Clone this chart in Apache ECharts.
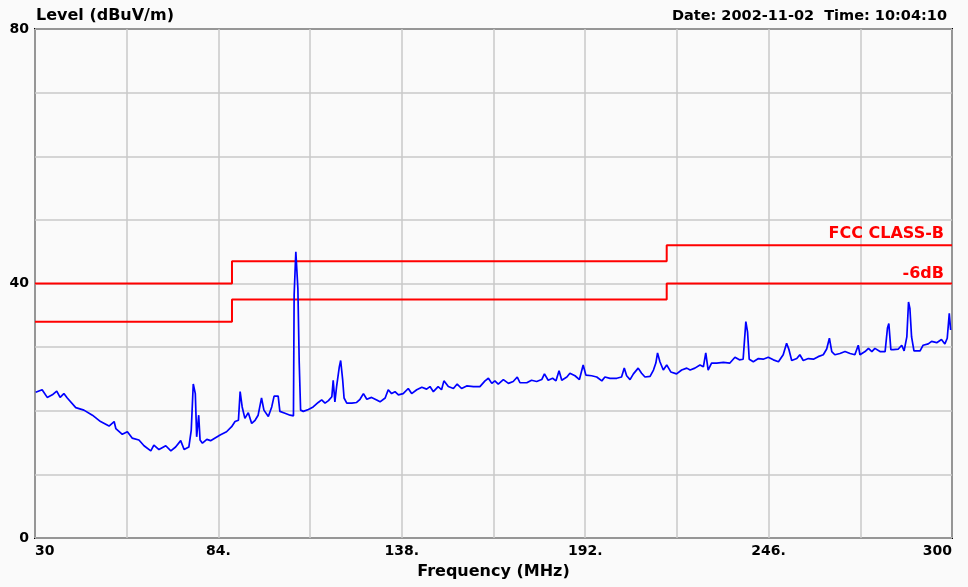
<!DOCTYPE html>
<html>
<head>
<meta charset="utf-8">
<script src="https://cdn.jsdelivr.net/npm/echarts@6/dist/echarts.min.js"></script>
<style>
html,body{margin:0;padding:0;background:#fafafa;}
#chart{width:968px;height:587px;}
</style>
</head>
<body>
<div id="chart"></div>
<script>
// Frequency axis tick labels (MHz)
var xTickValues = [30, 84, 138, 192, 246, 300];
var xTickLabels = ['30', '84.', '138.', '192.', '246.', '300'];
// Level axis tick labels (dBuV/m)
var yTickValues = [0, 40, 80];
var yTickLabels = ['0', '40', '80'];

// Limit lines
var limitFreq = [30, 88, 88, 216, 216, 300];
var fccLevel = [40, 40, 43.5, 43.5, 46, 46];
var minus6Level = [34, 34, 37.5, 37.5, 40, 40];

// Measured trace
var traceFreq = [30.2,32.1,33.6,35.1,36.4,37.4,38.5,39.5,42.0,44.4,46.9,49.3,51.8,53.3,53.8,55.7,57.2,58.6,60.6,62.1,64.1,65.0,66.5,68.5,70.0,71.4,72.9,73.9,75.3,76.0,76.6,77.2,77.6,78.2,78.6,79.3,80.6,81.7,84.5,86.4,87.9,88.9,89.9,90.4,91.0,91.8,92.8,93.8,94.8,95.7,96.7,97.4,98.7,99.7,100.4,101.6,102.1,103.6,105.1,106.1,106.3,106.8,107.1,107.4,107.8,108.2,109.0,110.5,111.9,113.4,114.4,115.4,116.4,117.4,117.8,118.3,118.8,119.6,120.0,120.6,121.0,121.8,123.3,124.7,125.7,126.7,127.7,129.1,130.6,131.6,133.1,134.0,135.0,136.0,137.0,138.4,139.9,140.9,142.4,143.9,145.3,146.3,147.3,148.7,149.7,150.4,151.7,153.2,154.3,155.6,157.1,159.1,161.0,162.5,163.5,164.5,165.4,166.4,167.9,169.4,170.8,172.0,172.8,174.8,176.2,177.7,179.2,180.0,181.1,182.4,183.4,184.3,185.1,186.6,187.5,189.0,190.3,191.4,192.2,193.9,195.4,196.9,197.8,199.3,201.3,202.7,203.5,204.2,205.2,206.2,207.6,208.6,209.6,211.1,212.1,212.8,213.3,214.0,215.0,216.0,217.2,218.9,220.4,221.9,222.9,224.3,225.8,226.8,227.5,228.2,229.2,230.7,232.7,234.6,236.1,237.4,238.5,239.3,239.8,240.3,241.5,243.0,244.4,245.9,247.4,248.9,250.3,251.3,252.0,252.8,254.3,255.2,256.2,257.7,259.2,260.6,262.1,263.1,263.9,264.6,265.5,267.0,268.5,270.0,271.4,272.4,272.9,274.4,275.4,276.4,277.3,278.8,280.3,281.0,281.4,282.0,282.7,284.2,285.2,285.9,286.7,287.2,287.6,288.1,288.8,290.6,291.5,293.0,294.0,295.5,296.9,297.9,298.6,299.2,299.6];
var traceLevel = [22.9,23.3,22.1,22.5,23.1,22.1,22.7,22.0,20.5,20.1,19.3,18.3,17.6,18.3,17.2,16.3,16.7,15.7,15.4,14.5,13.7,14.6,13.9,14.5,13.7,14.3,15.3,13.9,14.3,16.9,24.2,22.7,15.9,19.3,15.4,14.9,15.5,15.3,16.2,16.7,17.5,18.3,18.5,23.0,20.6,18.8,19.7,18.0,18.5,19.3,22.0,20.1,19.1,20.6,22.3,22.3,19.9,19.6,19.3,19.2,38.2,45.0,45.0,39.2,27.5,20.1,19.9,20.2,20.6,21.3,21.7,21.2,21.6,22.2,24.8,21.4,23.8,26.9,27.9,24.8,22.0,21.2,21.2,21.3,21.8,22.7,21.8,22.1,21.7,21.4,22.0,23.3,22.7,23.0,22.5,22.7,23.5,22.7,23.3,23.7,23.4,23.8,23.0,23.8,23.3,24.7,23.8,23.5,24.2,23.5,23.9,23.8,23.8,24.7,25.1,24.3,24.7,24.2,24.9,24.3,24.6,25.3,24.4,24.4,24.8,24.6,24.9,25.8,24.8,25.1,24.7,26.3,24.8,25.3,25.9,25.5,24.9,27.2,25.6,25.5,25.3,24.7,25.3,25.1,25.1,25.3,26.7,25.5,24.9,25.8,26.7,25.9,25.3,25.4,26.4,27.5,29.1,27.7,26.4,27.2,26.1,25.8,26.4,26.7,26.4,26.7,27.2,26.9,29.1,26.4,27.5,27.5,27.6,27.5,28.4,28.0,28.1,34.0,32.4,28.1,27.7,28.2,28.1,28.4,28.0,27.7,28.8,30.6,29.6,27.9,28.2,28.8,27.9,28.2,28.1,28.5,28.8,29.7,31.4,29.3,28.8,29.0,29.3,29.0,28.8,30.3,28.8,29.3,29.8,29.3,29.8,29.3,29.3,33.0,33.7,29.6,29.6,29.7,30.3,29.4,31.6,37.1,36.1,31.6,29.4,29.4,30.3,30.5,30.9,30.7,31.2,30.5,31.4,35.3,32.7];

function pairs(xs, ys) {
  var out = [];
  for (var i = 0; i < xs.length; i++) out.push([xs[i], ys[i]]);
  return out;
}

var FONT = '"DejaVu Sans", Arial, sans-serif';
var chart = echarts.init(document.getElementById('chart'), null, {renderer: 'canvas'});

var fccData = pairs(limitFreq, fccLevel);
var m6Data = pairs(limitFreq, minus6Level);

var option = {
  backgroundColor: '#fafafa',
  animation: false,
  title: [
    {text: 'Level (dBuV/m)', left: 31, top: 3,
     textStyle: {fontFamily: FONT, fontWeight: 'bold', fontSize: 16, color: '#000'}},
    {text: 'Date: 2002-11-02  Time: 10:04:10', right: 16, top: 4,
     textStyle: {fontFamily: FONT, fontWeight: 'bold', fontSize: 14.5, color: '#000'}}
  ],
  grid: {left: 35, right: 16, top: 29, bottom: 49, show: true,
         borderColor: '#000', borderWidth: 2, backgroundColor: 'transparent'},
  xAxis: {
    type: 'value', min: 30, max: 300, interval: 27,
    name: 'Frequency (MHz)', nameLocation: 'middle', nameGap: 26,
    nameTextStyle: {fontFamily: FONT, fontWeight: 'bold', fontSize: 16, color: '#000'},
    axisLine: {show: false}, axisTick: {show: false},
    splitLine: {show: true, lineStyle: {color: '#c8c8c8', width: 1.5}},
    axisLabel: {
      margin: 6, fontFamily: FONT, fontWeight: 'bold', fontSize: 14, color: '#000',
      alignMinLabel: 'left', alignMaxLabel: 'right', showMinLabel: true, showMaxLabel: true,
      formatter: function (v) {
        for (var i = 0; i < xTickValues.length; i++) if (Math.abs(xTickValues[i] - v) < 1e-6) return xTickLabels[i];
        return '';
      }
    }
  },
  yAxis: {
    type: 'value', min: 0, max: 80, interval: 10,
    axisLine: {show: false}, axisTick: {show: false},
    splitLine: {show: true, lineStyle: {color: '#c8c8c8', width: 1.5}},
    axisLabel: {
      margin: 6, fontFamily: FONT, fontWeight: 'bold', fontSize: 14, color: '#000',
      showMinLabel: true, showMaxLabel: true,
      formatter: function (v) {
        for (var i = 0; i < yTickValues.length; i++) if (Math.abs(yTickValues[i] - v) < 1e-6) return yTickLabels[i];
        return '';
      }
    }
  },
  series: [
    {
      name: 'FCC CLASS-B', type: 'line', data: fccData, symbol: 'none',
      lineStyle: {color: '#ff0000', width: 2}, z: 3,
      markPoint: {
        symbol: 'circle', symbolSize: 0, silent: true,
        data: [{coord: fccData[fccData.length - 1]}],
        label: {show: true, formatter: 'FCC CLASS-B', position: 'top', distance: 3,
                align: 'right', offset: [-8, 0],
                fontFamily: FONT, fontWeight: 'bold', fontSize: 16, color: '#ff0000'}
      }
    },
    {
      name: '-6dB', type: 'line', data: m6Data, symbol: 'none',
      lineStyle: {color: '#ff0000', width: 2}, z: 3,
      markPoint: {
        symbol: 'circle', symbolSize: 0, silent: true,
        data: [{coord: m6Data[m6Data.length - 1]}],
        label: {show: true, formatter: '-6dB', position: 'top', distance: 2,
                align: 'right', offset: [-8, 0],
                fontFamily: FONT, fontWeight: 'bold', fontSize: 16, color: '#ff0000'}
      }
    },
    {
      name: 'Level', type: 'line', data: pairs(traceFreq, traceLevel), symbol: 'none',
      lineStyle: {color: '#0000ff', width: 1.7}, z: 4
    }
  ]
};
chart.setOption(option);
</script>
</body>
</html>
